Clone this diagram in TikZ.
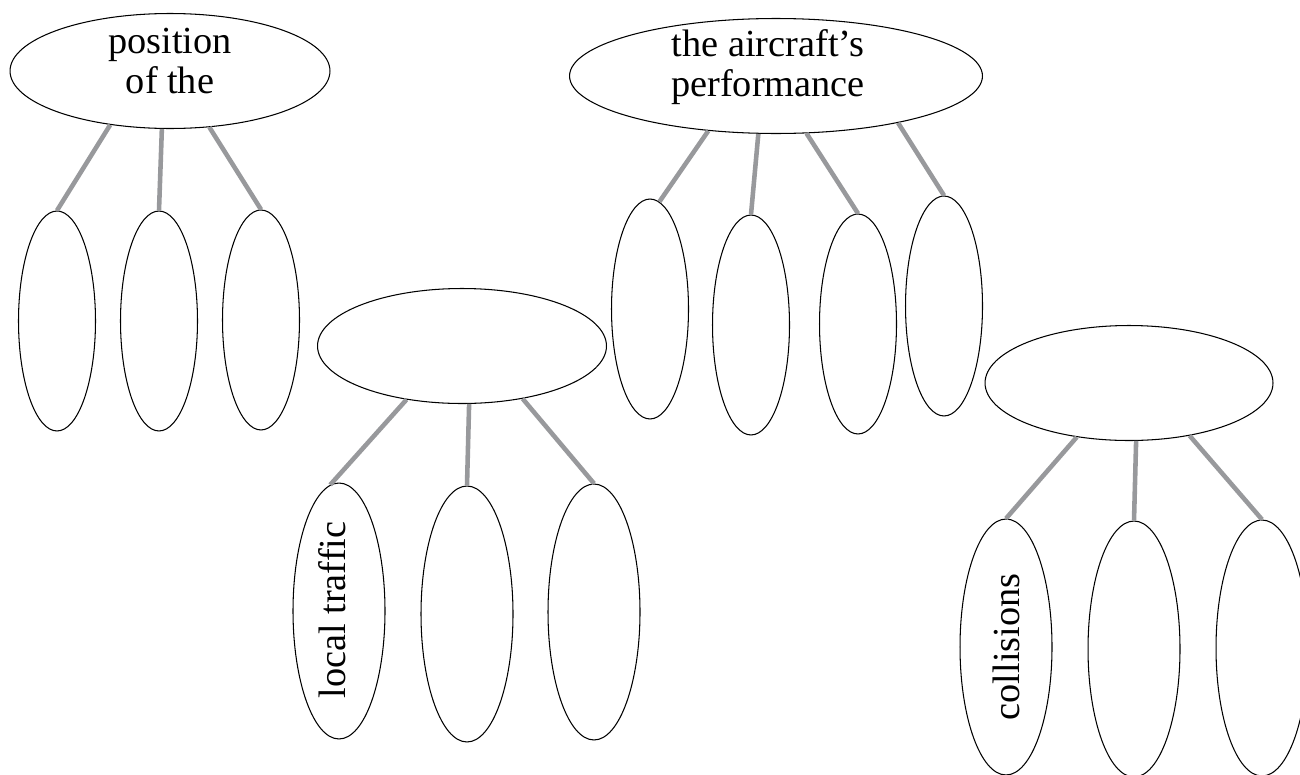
\documentclass[tikz,border=0pt]{standalone}
\usepackage{fontspec}
\setmainfont{Liberation Serif}
\usetikzlibrary{shapes.geometric}
\definecolor{linkgray}{RGB}{152,153,156}

\begin{document}
\begin{tikzpicture}[
    x=0.02cm, y=-0.02cm,
    topic/.style={draw, ellipse, line width=0.6pt, fill=white,
                  minimum height=2.3cm, inner sep=0pt},
    leaf/.style={draw, ellipse, line width=0.6pt, fill=white,
                 minimum width=1.54cm, minimum height=4.4cm, inner sep=0pt},
    bigleaf/.style={leaf, minimum width=1.84cm, minimum height=5.12cm},
    word/.style={font=\fontsize{21.8}{22.8}\selectfont, align=center, inner sep=0pt},
    link/.style={draw=linkgray, line width=2.6pt}
  ]
    \useasboundingbox (0,0) rectangle (1300,774);
    \clip (0,0) rectangle (1300,774);

    \node[topic, minimum width=6.4cm] (pos) at (170,71) {};
    \node[word]  (pos-txt) at (170,61) {position\\of the};
    \node[leaf]  (pos-a) at (57,321) {};
    \node[leaf]  (pos-b) at (159,321) {};
    \node[leaf]  (pos-c) at (261,320) {};

    \node[topic, minimum width=5.78cm] (loc) at (462,346) {};
    \node[bigleaf] (loc-a) at (339,611) {};
    \node[word, rotate=90] (loc-txt) at (332,610) {local traffic};
    \node[bigleaf] (loc-b) at (467,614) {};
    \node[bigleaf] (loc-c) at (594,612) {};

    \node[topic, minimum width=8.26cm] (perf) at (776,76) {};
    \node[word]  (perf-txt) at (768,67) {the aircraft’s\\performance};
    \node[leaf]  (perf-a) at (650,309) {};
    \node[leaf]  (perf-b) at (751,325) {};
    \node[leaf]  (perf-c) at (858,324) {};
    \node[leaf]  (perf-d) at (944,306) {};

    \node[topic, minimum width=5.76cm] (col) at (1129,383) {};
    \node[bigleaf] (col-a) at (1006,647) {};
    \node[word, rotate=90] (col-txt) at (1006,647) {collisions};
    \node[bigleaf] (col-b) at (1134,649) {};
    \node[bigleaf] (col-c) at (1262,648) {};

    \draw[link] (pos.222) -- (pos-a.north);
    \draw[link] (pos.262) -- (pos-b.north);
    \draw[link] (pos.305) -- (pos-c.north);
    \draw[link] (loc.224) -- (loc-a.94);
    \draw[link] (loc.277) -- (loc-b.north);
    \draw[link] (loc.319) -- (loc-c.north);
    \draw[link] (perf.219) -- (perf-a.85);
    \draw[link] (perf.253) -- (perf-b.north);
    \draw[link] (perf.298) -- (perf-c.north);
    \draw[link] (perf.339) -- (perf-d.north);
    \draw[link] (col.226) -- (col-a.north);
    \draw[link] (col.277) -- (col-b.north);
    \draw[link] (col.319) -- (col-c.north);
  \end{tikzpicture}
\end{document}
